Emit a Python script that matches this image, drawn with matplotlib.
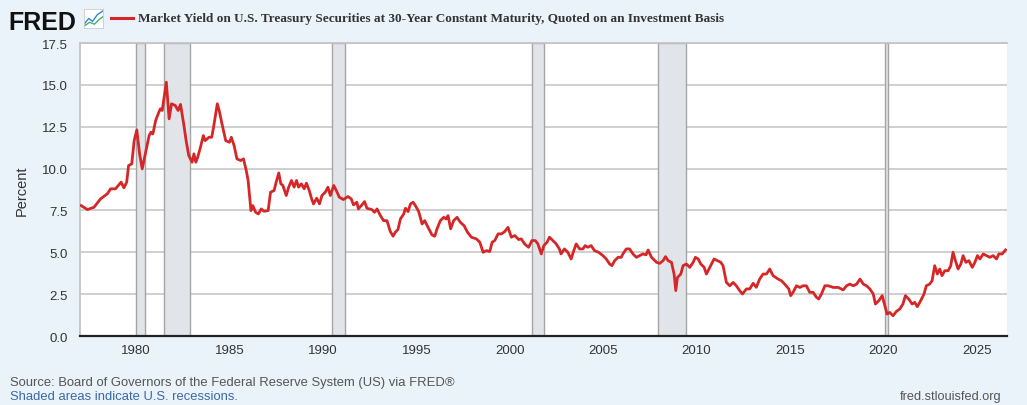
"""
Recreate FRED chart: 30-year Treasury constant maturity yield
"""

import matplotlib
matplotlib.use("Agg")
from matplotlib import pyplot as plt

# decimal year / percent
years = [
    1977.06, 1977.4, 1977.75, 1978.1, 1978.46, 1978.64, 1978.9, 1979.2, 1979.35,
    1979.5, 1979.6, 1979.77, 1979.9, 1980.04, 1980.19, 1980.33, 1980.5, 1980.7,
    1980.8, 1980.9, 1981.05, 1981.2, 1981.3, 1981.4, 1981.62, 1981.77, 1981.9,
    1982.1, 1982.25, 1982.38, 1982.55, 1982.68, 1982.82, 1983.0, 1983.1, 1983.2,
    1983.3, 1983.45, 1983.6, 1983.7, 1983.9, 1984.05, 1984.15, 1984.35, 1984.45,
    1984.6, 1984.8, 1985.0, 1985.1, 1985.25, 1985.4, 1985.6, 1985.75, 1985.9,
    1986.0, 1986.15, 1986.25, 1986.4, 1986.55, 1986.7, 1986.85, 1987.07, 1987.2,
    1987.39, 1987.5, 1987.64, 1987.75, 1987.86, 1988.04, 1988.17, 1988.32,
    1988.46, 1988.59, 1988.7, 1988.85, 1989.0, 1989.12, 1989.27, 1989.4, 1989.5,
    1989.67, 1989.82, 1989.95, 1990.13, 1990.27, 1990.4, 1990.58, 1990.72,
    1990.88, 1991.1, 1991.34, 1991.52, 1991.64, 1991.82, 1991.9, 1992.09,
    1992.23, 1992.36, 1992.62, 1992.77, 1992.9, 1993.08, 1993.25, 1993.43,
    1993.61, 1993.76, 1993.88, 1994.02, 1994.15, 1994.33, 1994.42, 1994.56,
    1994.69, 1994.83, 1994.95, 1995.13, 1995.31, 1995.45, 1995.63, 1995.84,
    1995.99, 1996.11, 1996.29, 1996.47, 1996.6, 1996.7, 1996.84, 1997.0,
    1997.18, 1997.36, 1997.56, 1997.74, 1997.95, 1998.22, 1998.4, 1998.58,
    1998.76, 1998.93, 1999.06, 1999.2, 1999.38, 1999.56, 1999.74, 1999.91,
    2000.09, 2000.27, 2000.48, 2000.62, 2000.8, 2001.01, 2001.19, 2001.37,
    2001.51, 2001.69, 2001.83, 2002.0, 2002.13, 2002.31, 2002.49, 2002.66,
    2002.75, 2002.93, 2003.11, 2003.29, 2003.43, 2003.56, 2003.74, 2003.92,
    2004.04, 2004.18, 2004.36, 2004.54, 2004.76, 2004.99, 2005.17, 2005.35,
    2005.47, 2005.62, 2005.8, 2005.97, 2006.06, 2006.24, 2006.42, 2006.6,
    2006.78, 2006.95, 2007.13, 2007.3, 2007.41, 2007.59, 2007.86, 2008.03,
    2008.21, 2008.34, 2008.48, 2008.66, 2008.8, 2008.89, 2008.98, 2009.16,
    2009.28, 2009.46, 2009.64, 2009.82, 2009.94, 2010.09, 2010.23, 2010.41,
    2010.53, 2010.71, 2010.94, 2011.12, 2011.3, 2011.42, 2011.6, 2011.78,
    2011.96, 2012.13, 2012.31, 2012.46, 2012.67, 2012.85, 2013.03, 2013.2,
    2013.38, 2013.56, 2013.74, 2013.92, 2014.1, 2014.37, 2014.55, 2014.72,
    2014.94, 2015.04, 2015.17, 2015.35, 2015.53, 2015.71, 2015.88, 2016.06,
    2016.24, 2016.42, 2016.54, 2016.69, 2016.87, 2017.05, 2017.32, 2017.59,
    2017.85, 2018.03, 2018.21, 2018.39, 2018.57, 2018.75, 2018.93, 2019.1,
    2019.28, 2019.46, 2019.58, 2019.76, 2019.94, 2020.08, 2020.2, 2020.34,
    2020.52, 2020.7, 2020.88, 2021.05, 2021.18, 2021.36, 2021.54, 2021.68,
    2021.82, 2022.0, 2022.18, 2022.3, 2022.48, 2022.61, 2022.75, 2022.89,
    2023.02, 2023.14, 2023.29, 2023.47, 2023.61, 2023.73, 2023.86, 2024.0,
    2024.15, 2024.27, 2024.42, 2024.58, 2024.76, 2024.9, 2025.04, 2025.17,
    2025.35, 2025.53, 2025.7, 2025.88, 2026.06, 2026.18, 2026.36, 2026.54,
]
yields = [
    7.79, 7.55, 7.69, 8.19, 8.49, 8.79, 8.79, 9.19, 8.85,
    9.19, 10.18, 10.28, 11.67, 12.31, 10.88, 9.98, 10.88, 11.97,
    12.17, 12.07, 12.87, 13.31, 13.57, 13.47, 15.16, 12.97, 13.87,
    13.77, 13.47, 13.83, 12.67, 11.67, 10.78, 10.38, 10.88, 10.38,
    10.68, 11.28, 11.97, 11.67, 11.87, 11.87, 12.47, 13.87, 13.47,
    12.67, 11.67, 11.57, 11.87, 11.37, 10.58, 10.48, 10.58, 9.88,
    9.28, 7.49, 7.79, 7.39, 7.29, 7.59, 7.45, 7.49, 8.59,
    8.69, 9.19, 9.74, 9.09, 8.99, 8.39, 8.89, 9.29,
    8.89, 9.29, 8.89, 9.09, 8.79, 9.13, 8.69, 8.19, 7.89,
    8.23, 7.89, 8.39, 8.59, 8.89, 8.39, 8.99, 8.69,
    8.29, 8.15, 8.33, 8.19, 7.83, 7.99, 7.59, 7.83,
    8.03, 7.63, 7.55, 7.39, 7.59, 7.19, 6.89, 6.89,
    6.24, 5.96, 6.20, 6.36, 6.99, 7.29, 7.63, 7.43,
    7.89, 7.99, 7.79, 7.43, 6.69, 6.89, 6.49, 6.04,
    5.96, 6.40, 6.89, 7.09, 6.99, 7.19, 6.40, 6.89,
    7.09, 6.79, 6.59, 6.20, 5.90, 5.80, 5.60, 5.00,
    5.10, 5.04, 5.60, 5.70, 6.10, 6.10, 6.24, 6.49,
    5.90, 6.00, 5.76, 5.80, 5.50, 5.30, 5.70, 5.70,
    5.50, 4.90, 5.40, 5.60, 5.90, 5.70, 5.50, 5.20,
    4.90, 5.20, 5.00, 4.60, 5.10, 5.50, 5.20, 5.20,
    5.40, 5.30, 5.40, 5.10, 5.00, 4.80, 4.60, 4.30,
    4.20, 4.50, 4.70, 4.70, 4.90, 5.20, 5.20, 4.90,
    4.70, 4.80, 4.90, 4.85, 5.14, 4.70, 4.40, 4.34,
    4.50, 4.74, 4.50, 4.40, 3.70, 2.71, 3.50, 3.70,
    4.20, 4.30, 4.10, 4.40, 4.70, 4.60, 4.30, 4.10,
    3.70, 4.10, 4.60, 4.50, 4.40, 4.20, 3.20, 3.00,
    3.20, 3.00, 2.71, 2.51, 2.81, 2.81, 3.15, 2.91,
    3.40, 3.70, 3.70, 4.00, 3.60, 3.40, 3.30, 3.10,
    2.81, 2.41, 2.61, 3.00, 2.90, 3.00, 3.00, 2.61,
    2.61, 2.31, 2.21, 2.51, 3.00, 3.00, 2.90, 2.90,
    2.75, 3.00, 3.10, 3.00, 3.10, 3.40, 3.10, 3.00,
    2.81, 2.51, 1.91, 2.11, 2.41, 1.81, 1.31, 1.41,
    1.21, 1.47, 1.61, 1.91, 2.41, 2.21, 1.91, 2.01,
    1.75, 2.11, 2.51, 3.00, 3.10, 3.30, 4.20, 3.70,
    4.00, 3.60, 3.90, 3.90, 4.20, 5.00, 4.50, 4.00,
    4.30, 4.80, 4.40, 4.50, 4.10, 4.40, 4.80, 4.60,
    4.90, 4.80, 4.70, 4.80, 4.60, 4.90, 4.90, 5.14,
]

# NBER recessions (start, end) as decimal years
recessions = [
    (1980.0, 1980.5), (1981.5, 1982.87), (1990.5, 1991.17),
    (2001.17, 2001.83), (2007.92, 2009.42), (2020.08, 2020.25),
]

y_ticks = [0.0, 2.5, 5.0, 7.5, 10.0, 12.5, 15.0, 17.5]
x_ticks = [1980, 1985, 1990, 1995, 2000, 2005, 2010, 2015, 2020, 2025]

BG = "#eaf2fa"
LINE = "#d62728"
SANS = ["Liberation Sans", "DejaVu Sans"]

fig = plt.figure(figsize=(10.27, 4.06), dpi=100, facecolor=BG)
ax = fig.add_axes([80 / 1027, 1 - 337 / 406, 927 / 1027, 293 / 406])
ax.set_facecolor("white")

for start, end in recessions:
    ax.axvspan(start, end, facecolor="#e1e5ea", edgecolor="#a4a4a4",
               linewidth=1.0, zorder=1)

ax.plot(years, yields, color=LINE, linewidth=2.0, zorder=3,
        solid_joinstyle="round")

ax.set_xlim(1977.0, 2026.62)
ax.set_ylim(0, 17.5)
ax.set_yticks(y_ticks)
ax.set_yticklabels([f"{v:.1f}" for v in y_ticks], family=SANS,
                   fontsize=9.5, color="#333333")
ax.set_xticks(x_ticks)
ax.set_xticklabels([str(v) for v in x_ticks], family=SANS,
                   fontsize=9.5, color="#333333")
ax.tick_params(axis="y", length=0, pad=9)
ax.tick_params(axis="x", length=0, pad=6)
ax.grid(axis="y", color="#cccccc", linewidth=1.3, zorder=0)
ax.set_axisbelow(True)
ax.spines["right"].set_visible(False)
for side in ["top", "left"]:
    ax.spines[side].set_color("#c4c4c4")
    ax.spines[side].set_linewidth(1.3)
ax.spines["bottom"].set_color("#222222")
ax.spines["bottom"].set_linewidth(1.6)
ax.spines["bottom"].set_zorder(4)
ax.set_ylabel("Percent", family=SANS, fontsize=10.5, color="#333333",
              labelpad=9)

# header: FRED logo, icon, legend line and title
fig.text(8 / 1027, 1 - 30 / 406, "FRED", family=SANS, fontsize=18,
         fontweight="bold", color="#111111")
icon = fig.add_axes([84 / 1027, 1 - 29 / 406, 19 / 1027, 19 / 406])
icon.set_facecolor("white")
icon.plot([0, 0.25, 0.45, 0.7, 1], [0.2, 0.5, 0.35, 0.7, 0.9],
          color="#3b7dd8", linewidth=1)
icon.plot([0, 0.3, 0.55, 0.8, 1], [0.1, 0.3, 0.2, 0.45, 0.6],
          color="#3cb371", linewidth=1)
icon.set_xlim(0, 1)
icon.set_ylim(0, 1)
icon.set_xticks([])
icon.set_yticks([])
for s in icon.spines.values():
    s.set_color("#cccccc")
    s.set_linewidth(0.6)

fig.add_artist(plt.Line2D([111 / 1027, 133 / 1027], [1 - 19 / 406] * 2,
                          color=LINE, linewidth=2.2))
fig.text(138 / 1027, 1 - 19 / 406,
         "Market Yield on U.S. Treasury Securities at 30-Year Constant "
         "Maturity, Quoted on an Investment Basis",
         family=["Liberation Serif", "DejaVu Serif"], fontsize=9.5,
         fontweight="bold", color="#333333", va="center")

# footer
fig.text(10 / 1027, 1 - 383 / 406,
         "Source: Board of Governors of the Federal Reserve System (US) via FRED\u00ae",
         family=SANS, fontsize=9.4, color="#555555", va="center")
fig.text(10 / 1027, 1 - 397 / 406, "Shaded areas indicate U.S. recessions.",
         family=SANS, fontsize=9.4, color="#3a6aa5", va="center")
fig.text(1001 / 1027, 1 - 397 / 406, "fred.stlouisfed.org",
         family=SANS, fontsize=9.2, color="#555555", va="center", ha="right")

fig.savefig("out.png", dpi=100, facecolor=BG)
